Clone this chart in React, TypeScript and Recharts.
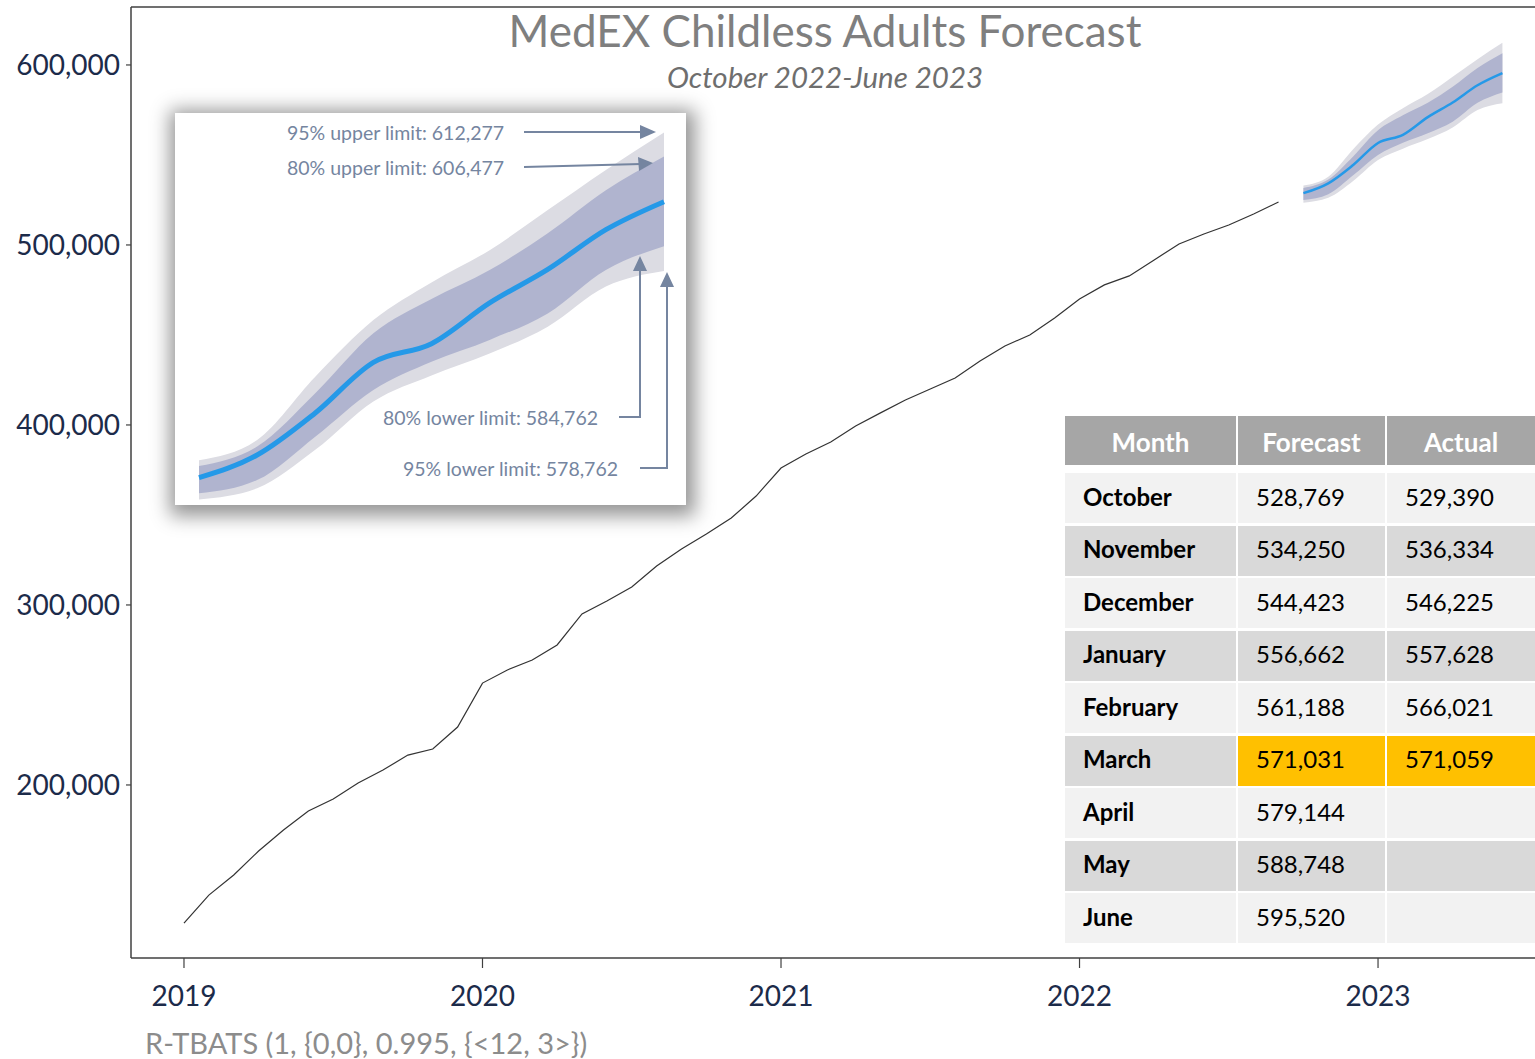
import React from "react";
import { Area, ComposedChart, Line, ReferenceLine, XAxis, YAxis } from "recharts";

// monthly enrollment, Jan 2019 .. Sep 2022
const actual = [
  123300, 138800, 150000, 163300, 175000, 185500, 192200, 201100, 208300, 216600, 220000, 232200,
  256600, 263900, 269400, 277800, 295000, 302200, 310000, 321600, 331100, 339400, 348300, 360500,
  376100, 383900, 390500, 399400, 406700, 413900, 420000, 426100, 435500, 443900, 450000, 459400,
  470000, 477800, 482800, 491700, 500500, 506100, 511100, 517200, 523900,
];

// Oct 2022 .. Jun 2023
const tableMonths = ["October", "November", "December", "January", "February", "March", "April", "May", "June"];
const forecast = [528769, 534250, 544423, 556662, 561188, 571031, 579144, 588748, 595520];
const actualFc = [529390, 536334, 546225, 557628, 566021, 571059, null, null, null];
const lower95 = [523500, 526200, 535500, 547200, 553500, 558800, 565300, 575000, 578762];
const lower80 = [525000, 528200, 538700, 550000, 556800, 562100, 568500, 579000, 584762];
const upper80 = [531600, 536300, 549200, 563700, 572000, 579000, 587900, 598300, 606477];
const upper95 = [533000, 537900, 553200, 566900, 576000, 583800, 593500, 603200, 612277];

const yTicks = [200000, 300000, 400000, 500000, 600000];
const yearTicks = [2019, 2020, 2021, 2022, 2023];
const highlightMonth = "March";

const FONT = "Lato, 'Open Sans', sans-serif";
const NAVY = "#1c2b4a";
const AXIS = "#404040";
const BAND95 = "#dcdce3";
const BAND80 = "#b0b4cf";
const BLUE = "#2599e8";

const fmt = (v: number) => v.toLocaleString("en-US");

const fcStart = actual.length;
const rows = [
  ...actual.map((v, i) => ({ m: i, actual: v })),
  ...forecast.map((v, i) => ({
    m: fcStart + i,
    fc: v,
    b95: [lower95[i], upper95[i]],
    b80: [lower80[i], upper80[i]],
  })),
];
const fcRows = rows.filter((r) => r.m >= fcStart);

function Inset() {
  const c = "#7585a0";
  return (
    <div
      style={{
        position: "absolute",
        left: 175,
        top: 113,
        width: 511,
        height: 392,
        background: "#fff",
        boxShadow: "2px 4px 18px 7px rgba(0,0,0,0.42)",
      }}
    >
      <ComposedChart width={511} height={392} data={fcRows} margin={{ top: 0, right: 22, bottom: 0, left: 24 }}>
        <XAxis dataKey="m" type="number" domain={[fcStart, fcStart + 8]} hide />
        <YAxis type="number" domain={[522167, 616971]} hide allowDataOverflow />
        <Area dataKey="b95" type="monotone" fill={BAND95} fillOpacity={1} stroke="none" isAnimationActive={false} />
        <Area dataKey="b80" type="monotone" fill={BAND80} fillOpacity={1} stroke="none" isAnimationActive={false} />
        <Line dataKey="fc" type="monotone" stroke={BLUE} strokeWidth={5} dot={false} isAnimationActive={false} />
      </ComposedChart>
      <svg width={511} height={392} style={{ position: "absolute", left: 0, top: 0 }}>
        <g fill={c} fontFamily={FONT} fontSize={19.5} dominantBaseline="central">
          <text x={112} y={19}>95% upper limit: 612,277</text>
          <text x={112} y={54}>80% upper limit: 606,477</text>
          <text x={208} y={304}>80% lower limit: 584,762</text>
          <text x={228} y={355}>95% lower limit: 578,762</text>
        </g>
        <g stroke={c} strokeWidth={2} fill="none">
          <line x1={349} y1={19} x2={468} y2={19} />
          <line x1={349} y1={54} x2={466} y2={51} />
          <path d="M444 304 H465 V156" />
          <path d="M465 355 H492 V172" />
        </g>
        <g fill={c}>
          <polygon points="465,12 481,19 465,26" />
          <polygon points="463,44 478,50 464,58" />
          <polygon points="458,158 465,143 472,158" />
          <polygon points="485,174 492,159 499,174" />
        </g>
      </svg>
    </div>
  );
}

function ForecastTable() {
  const cols = [171, 147, 148];
  const cell = (bg: string, extra: React.CSSProperties = {}): React.CSSProperties => ({
    background: bg,
    height: 50,
    display: "flex",
    alignItems: "center",
    boxSizing: "border-box",
    fontSize: 24,
    color: "#000",
    ...extra,
  });
  return (
    <div
      style={{
        position: "absolute",
        left: 1065,
        top: 416,
        display: "grid",
        gridTemplateColumns: cols.map((c) => `${c}px`).join(" "),
        columnGap: 2,
        rowGap: 2.5,
        fontFamily: FONT,
      }}
    >
      {["Month", "Forecast", "Actual"].map((h) => (
        <div
          key={h}
          style={cell("#a6a6a6", {
            height: 49,
            marginBottom: 5.5,
            justifyContent: "center",
            color: "#fff",
            fontWeight: 700,
            fontSize: 26,
            paddingTop: 3,
          })}
        >
          {h}
        </div>
      ))}
      {tableMonths.map((mon, i) => {
        const bg = i % 2 === 0 ? "#f2f2f2" : "#d9d9d9";
        const hl = mon === highlightMonth ? "#ffc000" : bg;
        const a = actualFc[i];
        return (
          <React.Fragment key={mon}>
            <div style={cell(bg, { paddingLeft: 18, fontWeight: 700, paddingBottom: 4 })}>{mon}</div>
            <div style={cell(hl, { paddingLeft: 18, paddingBottom: 4 })}>{fmt(forecast[i])}</div>
            <div style={cell(hl, { paddingLeft: 18, paddingBottom: 4 })}>{a == null ? "" : fmt(a)}</div>
          </React.Fragment>
        );
      })}
    </div>
  );
}

export default function App() {
  const yMin = 103870;
  const yMax = 632200;
  return (
    <div style={{ position: "absolute", left: 0, top: 0, width: 1535, height: 1059, background: "#fff", fontFamily: FONT }}>
      <ComposedChart width={1535} height={1059} data={rows} margin={{ top: 7, right: 0, bottom: 0, left: 0 }}>
        <XAxis
          dataKey="m"
          type="number"
          domain={[-2.13, 54.31]}
          allowDataOverflow
          ticks={yearTicks.map((y) => (y - 2019) * 12)}
          tickFormatter={(m: number) => String(2019 + m / 12)}
          height={101}
          tickSize={10}
          tickMargin={18}
          axisLine={{ stroke: AXIS, strokeWidth: 1.5 }}
          tickLine={{ stroke: AXIS, strokeWidth: 1.2 }}
          tick={{ fill: NAVY, fontSize: 28, fontFamily: FONT }}
        />
        <YAxis
          type="number"
          domain={[yMin, yMax]}
          allowDataOverflow
          ticks={yTicks}
          tickFormatter={fmt}
          width={131}
          tickSize={5}
          tickMargin={6}
          axisLine={{ stroke: AXIS, strokeWidth: 1.5 }}
          tickLine={{ stroke: AXIS, strokeWidth: 1.2 }}
          tick={{ fill: NAVY, fontSize: 28, fontFamily: FONT }}
        />
        <ReferenceLine y={yMax} stroke={AXIS} strokeWidth={1.5} ifOverflow="visible" />
        <Area dataKey="b95" type="monotone" fill={BAND95} fillOpacity={1} stroke="none" isAnimationActive={false} />
        <Area dataKey="b80" type="monotone" fill={BAND80} fillOpacity={1} stroke="none" isAnimationActive={false} />
        <Line dataKey="actual" type="linear" stroke="#333" strokeWidth={1.2} dot={false} isAnimationActive={false} />
        <Line dataKey="fc" type="monotone" stroke={BLUE} strokeWidth={2.5} dot={false} isAnimationActive={false} />
      </ComposedChart>
      <svg width={1535} height={1059} style={{ position: "absolute", left: 0, top: 0, pointerEvents: "none" }}>
        <text x={825} y={47} textAnchor="middle" fontFamily={FONT} fontSize={44} fill="#7f7f7f">
          MedEX Childless Adults Forecast
        </text>
        <text x={825} y={88} textAnchor="middle" fontFamily={FONT} fontSize={29.5} fontStyle="italic" fill="#6e6e6e">
          October 2022-June 2023
        </text>
        <text x={145} y={1054} fontFamily={FONT} fontSize={29} fill="#8c8c8c">
          R-TBATS (1, {"{0,0}"}, 0.995, {"{<12, 3>}"})
        </text>
      </svg>
      <Inset />
      <ForecastTable />
    </div>
  );
}
